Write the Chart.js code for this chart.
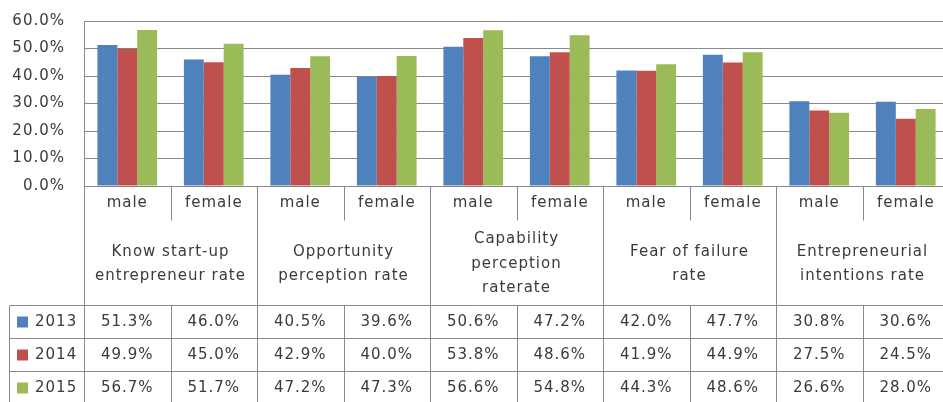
<!DOCTYPE html>
<html>
<head>
<meta charset="utf-8">
<script src="https://cdn.jsdelivr.net/npm/chart.js@4"></script>
<style>
  html, body { margin: 0; padding: 0; background: #fff; overflow: hidden; }
  canvas { display: block; }
</style>
</head>
<body>
<canvas id="chart" width="950" height="402"></canvas>
<script>
const categories = ["male", "female", "male", "female", "male", "female", "male", "female", "male", "female"];
const groups = [
  ["Know start-up", "entrepreneur rate"],
  ["Opportunity", "perception rate"],
  ["Capability", "perception", "raterate"],
  ["Fear of failure", "rate"],
  ["Entrepreneurial", "intentions rate"]
];
const years = ["2013", "2014", "2015"];
const values2013 = [51.3, 46.0, 40.5, 39.6, 50.6, 47.2, 42.0, 47.7, 30.8, 30.6];
const values2014 = [49.9, 45.0, 42.9, 40.0, 53.8, 48.6, 41.9, 44.9, 27.5, 24.5];
const values2015 = [56.7, 51.7, 47.2, 47.3, 56.6, 54.8, 44.3, 48.6, 26.6, 28.0];
const colors = ["#4f81bd", "#c0504d", "#9bbb59"];

const FONT = '15px "DejaVu Sans"';
const TEXT = "#3a3a3a";
const LINE = "#898989";

/* ================================
   DATA TABLE UNDER THE AXIS
================================ */
const tablePlugin = {
  id: "dataTable",
  beforeDraw(chart) {
    chart.ctx.letterSpacing = "1px";
  },
  afterDraw(chart) {
    const ctx = chart.ctx;
    const area = chart.chartArea;
    const xs = chart.scales.x;
    const n = categories.length;
    const w = (area.right - area.left) / n;
    const base = Math.round(area.bottom) + 0.5;
    const tableTop = 305.5;
    const rowH = 33;
    const rows = [values2013, values2014, values2015];

    ctx.save();
    ctx.strokeStyle = LINE;
    ctx.lineWidth = 1;
    ctx.letterSpacing = "1px";

    function line(x1, y1, x2, y2) {
      ctx.beginPath();
      ctx.moveTo(x1, y1);
      ctx.lineTo(x2, y2);
      ctx.stroke();
    }

    // horizontal table lines
    for (let r = 0; r <= rows.length; r++) {
      line(9.5, tableTop + r * rowH, area.right, tableTop + r * rowH);
    }
    // legend column left edge
    line(9.5, tableTop, 9.5, tableTop + rows.length * rowH);

    // vertical lines
    for (let i = 0; i <= n; i++) {
      const x = Math.round(area.left + i * w) + 0.5;
      if (i % 2 === 0) {
        line(x, base, x, tableTop + rows.length * rowH);
      } else {
        line(x, base, x, base + 34);
        line(x, tableTop, x, tableTop + rows.length * rowH);
      }
    }

    ctx.font = FONT;
    ctx.fillStyle = TEXT;
    ctx.textAlign = "center";
    ctx.textBaseline = "middle";

    // male / female labels
    categories.forEach(function (c, i) {
      ctx.fillText(c, xs.getPixelForValue(i), 203);
    });

    // group labels
    groups.forEach(function (g, k) {
      const cx = area.left + (2 * k + 1) * w;
      const lh = 24.5;
      const y0 = 264 - (g.length - 1) * lh / 2;
      g.forEach(function (t, j) {
        ctx.fillText(t, cx, y0 + j * lh);
      });
    });

    // values
    rows.forEach(function (vals, r) {
      const cy = tableTop + r * rowH + 17;
      vals.forEach(function (v, i) {
        ctx.fillText(v.toFixed(1) + "%", xs.getPixelForValue(i), cy);
      });
      // legend key
      ctx.fillStyle = colors[r];
      ctx.fillRect(17, cy - 6, 11, 11);
      ctx.fillStyle = TEXT;
      ctx.textAlign = "left";
      ctx.fillText(years[r], 35, cy);
      ctx.textAlign = "center";
    });

    ctx.restore();
  }
};

/* ================================
   BAR CHART
================================ */
const ctx = document.getElementById("chart").getContext("2d");

new Chart(ctx, {
  type: "bar",
  data: {
    labels: categories,
    datasets: [
      { label: years[0], data: values2013, backgroundColor: colors[0] },
      { label: years[1], data: values2014, backgroundColor: colors[1] },
      { label: years[2], data: values2015, backgroundColor: colors[2] }
    ]
  },
  options: {
    responsive: false,
    animation: false,
    layout: { padding: { left: 0, top: 21, right: 1, bottom: 216 } },
    datasets: {
      bar: { categoryPercentage: 0.69, barPercentage: 1.0 }
    },
    plugins: {
      legend: { display: false },
      tooltip: { enabled: false }
    },
    scales: {
      x: { display: false },
      y: {
        min: 0,
        max: 60,
        ticks: {
          stepSize: 10,
          color: TEXT,
          font: { family: "DejaVu Sans", size: 15 },
          padding: 2,
          callback: function (v) { return v.toFixed(1) + "%"; }
        },
        grid: { color: LINE, drawTicks: true, tickLength: 17, tickColor: "rgba(0,0,0,0)" },
        border: { display: true, color: LINE },
        afterFit: function (scale) { scale.width = 84; }
      }
    }
  },
  plugins: [tablePlugin]
});
</script>
</body>
</html>
